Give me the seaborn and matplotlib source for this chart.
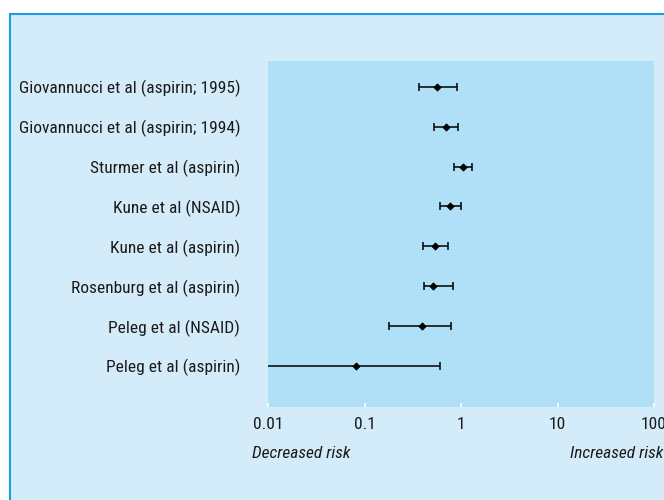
import numpy as np
import pandas as pd
import matplotlib
matplotlib.use("Agg")
import matplotlib.pyplot as plt
import seaborn as sns
from matplotlib.patches import Rectangle

studies = ["Giovannucci et al (aspirin; 1995)", "Giovannucci et al (aspirin; 1994)",
           "Sturmer et al (aspirin)", "Kune et al (NSAID)", "Kune et al (aspirin)",
           "Rosenburg et al (aspirin)", "Peleg et al (NSAID)", "Peleg et al (aspirin)"]
risk = [0.57, 0.70, 1.04, 0.77, 0.54, 0.51, 0.39, 0.082]
ci_low = [0.37, 0.53, 0.84, 0.61, 0.40, 0.41, 0.18, 0.005]
ci_high = [0.90, 0.94, 1.30, 1.00, 0.73, 0.82, 0.79, 0.60]
xticks = [0.01, 0.1, 1, 10, 100]
xticklabels = ["0.01", "0.1", "1", "10", "100"]

df = pd.DataFrame({"study": studies, "risk": risk, "low": ci_low, "high": ci_high})

sns.set_theme(style="white")
plt.rcParams["font.family"] = ["Roboto Condensed", "Liberation Sans", "DejaVu Sans"]
fs = 12.5

fig = plt.figure(figsize=(6.64, 5.0), dpi=100)
fig.patch.set_facecolor("white")
# light blue panel with blue border on top and left
fig.patches.append(Rectangle((9.5 / 664, -0.1), 1.2, 1.1 - 14.5 / 500,
                             transform=fig.transFigure, facecolor="#d4ecfa",
                             edgecolor="#1a9fe0", linewidth=1.5, zorder=-1))

ax = fig.add_axes([268 / 664, 1 - 407 / 500, 386 / 664, 346 / 500])
ax.set_facecolor("#b0e0f8")

ypos = np.arange(len(studies))
xerr = [df["risk"] - df["low"], df["high"] - df["risk"]]
ax.errorbar(df["risk"], ypos, xerr=xerr, fmt="none", ecolor="black",
            elinewidth=1.1, capsize=2.6, capthick=1.1, zorder=2)
sns.scatterplot(data=df, x="risk", y="study", marker="D", s=14, color="black",
                edgecolor="black", linewidth=0.5, ax=ax, zorder=3)

ax.set_xscale("log")
ax.set_xlim(0.01, 100)
ax.set_ylim(8.03, -0.65)
ax.set_xticks(xticks)
ax.set_xticklabels(xticklabels)
ax.minorticks_off()
ax.set_xlabel("")
ax.set_ylabel("")
for s in ax.spines.values():
    s.set_visible(False)
ax.tick_params(axis="x", direction="in", length=3, width=1.2, color="white",
               labelsize=fs, pad=7, bottom=True, labelcolor="#1a1a1a")
ax.tick_params(axis="y", length=0, labelsize=fs, pad=20, labelcolor="#1a1a1a")

ax.text(252 / 664, 1 - 453 / 500, "Decreased risk", transform=fig.transFigure,
        fontsize=fs, fontstyle="italic", ha="left", va="center", color="#1a1a1a")
ax.text(570 / 664, 1 - 453 / 500, "Increased risk", transform=fig.transFigure,
        fontsize=fs, fontstyle="italic", ha="left", va="center", color="#1a1a1a")

fig.savefig("out.png", dpi=100)
